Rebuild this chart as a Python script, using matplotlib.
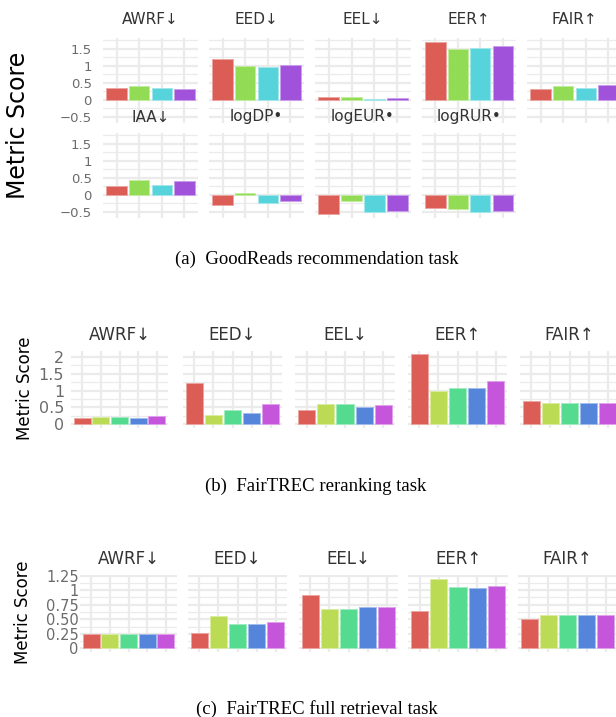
import matplotlib
matplotlib.use("Agg")
import matplotlib.pyplot as plt
from matplotlib.colors import to_rgb
from matplotlib.ticker import MultipleLocator

W, H = 616, 717

# (a) GoodReads recommendation task
a_metrics = ["AWRF↓", "EED↓", "EEL↓", "EER↑", "FAIR↑",
             "IAA↓", "logDP•", "logEUR•", "logRUR•"]
a_values = [
    [0.36, 0.40, 0.35, 0.33],
    [1.20, 1.00, 0.98, 1.03],
    [0.09, 0.07, 0.03, 0.05],
    [1.70, 1.51, 1.54, 1.57],
    [0.33, 0.40, 0.35, 0.43],
    [0.26, 0.44, 0.28, 0.40],
    [-0.31, 0.07, -0.24, -0.18],
    [-0.56, -0.18, -0.49, -0.46],
    [-0.40, -0.42, -0.49, -0.46],
]
a_colors = ["#DB5D55", "#92DB55", "#57D4DB", "#A052DB"]
a_ticks = [-0.5, 0, 0.5, 1, 1.5]
a_ticklabels = ["−0.5", "0", "0.5", "1", "1.5"]

# (b) FairTREC reranking task
b_metrics = ["AWRF↓", "EED↓", "EEL↓", "EER↑", "FAIR↑"]
b_values = [
    [0.20, 0.22, 0.22, 0.20, 0.25],
    [1.21, 0.29, 0.41, 0.33, 0.59],
    [0.42, 0.60, 0.61, 0.52, 0.58],
    [2.08, 0.98, 1.09, 1.09, 1.29],
    [0.68, 0.62, 0.62, 0.62, 0.63],
]
b_ticks = [0, 0.5, 1, 1.5, 2]
b_ticklabels = ["0", "0.5", "1", "1.5", "2"]

# (c) FairTREC full retrieval task
c_metrics = ["AWRF↓", "EED↓", "EEL↓", "EER↑", "FAIR↑"]
c_values = [
    [0.25, 0.24, 0.24, 0.25, 0.25],
    [0.26, 0.56, 0.41, 0.42, 0.46],
    [0.92, 0.67, 0.68, 0.71, 0.71],
    [0.65, 1.20, 1.05, 1.03, 1.07],
    [0.50, 0.57, 0.57, 0.57, 0.57],
]
c_ticks = [0, 0.25, 0.5, 0.75, 1, 1.25]
c_ticklabels = ["0", "0.25", "0.50", "0.75", "1", "1.25"]

bc_colors = ["#DB5D55", "#BBDB55", "#55DB8F", "#5585DB", "#C555DB"]

captions = ["(a)  GoodReads recommendation task",
            "(b)  FairTREC reranking task",
            "(c)  FairTREC full retrieval task"]

GRID = "#EBEBEB"


def lighter(c, f=0.45):
    r, g, b = to_rgb(c)
    return (r + (1 - r) * f, g + (1 - g) * f, b + (1 - b) * f)


def panel(fig, box, vals, colors, ylim, major, minor, ticks=None,
          labels=None, fs=8, pad=4):
    left, top, right, bottom = box
    ax = fig.add_axes([left / W, 1 - bottom / H, (right - left) / W,
                       (bottom - top) / H])
    x = list(range(1, len(vals) + 1))
    ax.bar(x, vals, width=0.9, color=colors,
           edgecolor=[lighter(c) for c in colors], linewidth=0.7, zorder=3)
    ax.set_xlim(0.4, len(vals) + 0.6)
    ax.set_ylim(ylim)
    ax.set_xticks(x)
    ax.set_xticklabels([])
    ax.yaxis.set_major_locator(MultipleLocator(major))
    ax.yaxis.set_minor_locator(MultipleLocator(minor))
    ax.grid(which="major", color=GRID, lw=1.6, zorder=0)
    ax.grid(which="minor", axis="y", color=GRID, lw=0.9, zorder=0)
    ax.set_axisbelow(True)
    for s in ax.spines.values():
        s.set_visible(False)
    ax.tick_params(which="both", length=0)
    if ticks is not None:
        ax.set_yticks(ticks)
        ax.set_yticklabels(labels, fontsize=fs, color="#6b6b6b")
        ax.tick_params(axis="y", pad=pad)
        ax.set_ylim(ylim)
    else:
        ax.set_yticklabels([])
    return ax


def strip(fig, box, text, y, fs):
    left, top, right, bottom = box
    fig.text((left + right) / 2 / W, 1 - y / H, text, ha="center",
             va="center", fontsize=fs, color="#333333")


fig = plt.figure(figsize=(W / 100, H / 100), dpi=100)

# ---- (a)
a_x = [(103, 198), (209, 304), (315, 411), (422, 516), (527, 622)]
a_rows = [(38, 123, 20), (133, 218, 117)]
for i, (name, vals) in enumerate(zip(a_metrics, a_values)):
    r, c = divmod(i, 5)
    top, bottom, ty = a_rows[r]
    box = (a_x[c][0], top, a_x[c][1], bottom)
    panel(fig, box, vals, a_colors, (-0.68, 1.82), 0.5, 0.25,
          a_ticks if c == 0 else None, a_ticklabels, fs=9.5, pad=8)
    strip(fig, box, name, ty, 11)
fig.text(18 / W, 1 - 125 / H, "Metric Score", rotation=90, ha="center",
         va="center", fontsize=17)
fig.text(317 / W, 1 - 259 / H, captions[0], ha="center", va="center",
         fontsize=13.5, family="Liberation Serif")

# ---- (b)
b_x = [(71, 168), (183, 282), (295, 395), (408, 507), (520, 619)]
for c, (name, vals) in enumerate(zip(b_metrics, b_values)):
    box = (b_x[c][0], 350.6, b_x[c][1], 427.8)
    panel(fig, box, vals, bc_colors, (-0.104, 2.184), 0.5, 0.25,
          b_ticks if c == 0 else None, b_ticklabels, fs=11.5, pad=5)
    strip(fig, box, name, 335, 12)
fig.text(25 / W, 1 - 388 / H, "Metric Score", rotation=90, ha="center",
         va="center", fontsize=12)
fig.text(316 / W, 1 - 486 / H, captions[1], ha="center", va="center",
         fontsize=13.5, family="Liberation Serif")

# ---- (c)
c_x = [(80, 177), (188, 287), (299, 398), (408, 508), (518, 617)]
for c, (name, vals) in enumerate(zip(c_metrics, c_values)):
    box = (c_x[c][0], 575.1, c_x[c][1], 651.8)
    panel(fig, box, vals, bc_colors, (-0.06, 1.26), 0.25, 0.125,
          c_ticks if c == 0 else None, c_ticklabels, fs=10.5, pad=1)
    strip(fig, box, name, 559, 12)
fig.text(23 / W, 1 - 612 / H, "Metric Score", rotation=90, ha="center",
         va="center", fontsize=12)
fig.text(317 / W, 1 - 709 / H, captions[2], ha="center", va="center",
         fontsize=13.5, family="Liberation Serif")

fig.savefig("out.png", dpi=100)
